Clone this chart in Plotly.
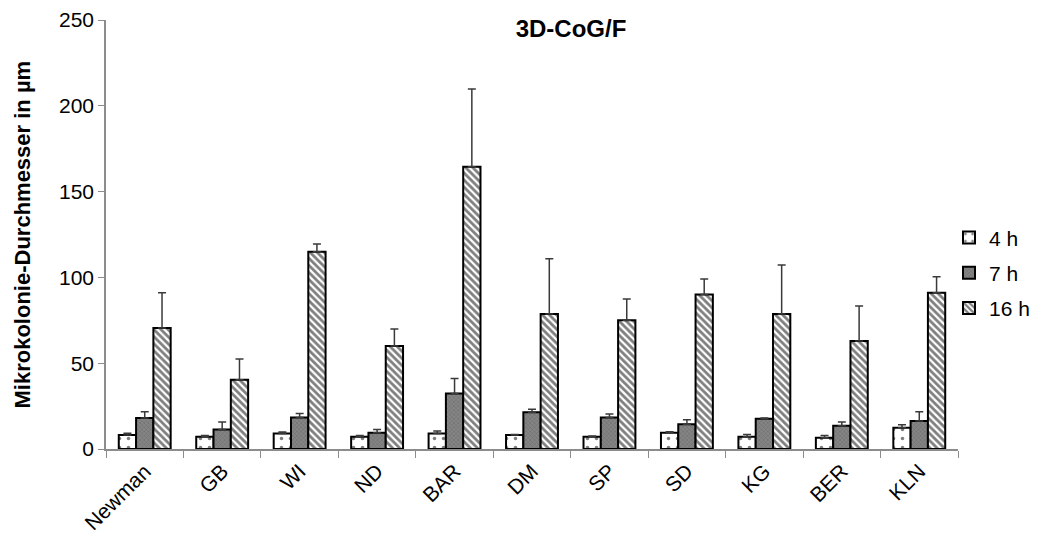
import plotly.graph_objects as go

categories = ["Newman", "GB", "WI", "ND", "BAR", "DM", "SP", "SD", "KG", "BER", "KLN"]
series_names = ["4 h", "7 h", "16 h"]

values_4h = [8.2, 7.2, 9.1, 7.2, 9.1, 8.2, 7.2, 9.5, 7.2, 6.6, 12.4]
values_7h = [18.0, 11.3, 18.4, 9.5, 32.4, 21.4, 18.4, 14.4, 17.7, 13.6, 16.3]
values_16h = [70.5, 40.4, 115.0, 60.0, 164.5, 78.7, 75.0, 90.1, 78.7, 62.9, 91.1]

err_4h = [1.0, 0.6, 0.8, 0.6, 1.4, 0.3, 0.4, 0.6, 1.2, 1.2, 1.8]
err_7h = [3.7, 4.4, 2.3, 1.9, 8.7, 1.7, 2.0, 2.7, 0.3, 2.1, 5.4]
err_16h = [20.5, 12.0, 4.5, 9.9, 45.3, 32.2, 12.4, 8.9, 28.5, 20.4, 9.3]

y_ticks = [0, 50, 100, 150, 200, 250]

FONT = "Liberation Sans, Arial, sans-serif"

W, H = 1045, 528
L, R, T, B = 98, 95, 12, 87
PW = W - L - R

styles = [
    dict(bgcolor="white", fgcolor="black", shape=".", size=9, solidity=0.12),
    dict(bgcolor="#858585", fgcolor="#555555", shape="x", size=3, solidity=0.35),
    dict(bgcolor="white", fgcolor="black", shape="\\", size=5, solidity=0.55),
]

fig = go.Figure()
for name, vals, errs, st in zip(series_names, [values_4h, values_7h, values_16h],
                                [err_4h, err_7h, err_16h], styles):
    fig.add_trace(go.Bar(
        x=categories, y=vals, name=name, legendgroup=name,
        marker=dict(color=st["bgcolor"], line=dict(color="black", width=2),
                    pattern=dict(shape=st["shape"], fgcolor=st["fgcolor"],
                                 bgcolor=st["bgcolor"], size=st["size"],
                                 solidity=st["solidity"], fillmode="overlay")),
        error_y=dict(type="data", symmetric=False, array=errs,
                     arrayminus=[0] * len(errs), color="#3a3a3a",
                     thickness=1.5, width=4),
    ))

fig.update_layout(
    width=W, height=H,
    paper_bgcolor="white", plot_bgcolor="white",
    barmode="group", bargap=0.33, bargroupgap=0,
    margin=dict(l=L, r=R, t=T, b=B, autoexpand=False),
    font=dict(family=FONT, size=20, color="black"),
    title=dict(text="<b>3D-CoG/F</b>", x=(571 - 8 - L) / PW, xref="paper",
               xanchor="center", y=1 - 21 / H, yref="container", yanchor="middle",
               font=dict(family=FONT, size=24, color="black")),
    legend=dict(x=(949 - 8 - L) / PW, xanchor="left", y=0.54, yanchor="top",
                font=dict(family=FONT, size=21), tracegroupgap=5,
                itemwidth=30, bgcolor="rgba(0,0,0,0)"),
    showlegend=True,
)

fig.update_xaxes(
    showline=True, linecolor="#8c8c8c", linewidth=1.5,
    ticks="outside", tickson="boundaries", ticklen=7, tickcolor="#8c8c8c",
    tickangle=-45, tickfont=dict(family=FONT, size=21),
    showgrid=False, automargin=False,
)
fig.update_yaxes(
    range=[0, 250], tickvals=y_ticks, showline=True, linecolor="#8c8c8c",
    linewidth=1.5, ticks="outside", ticklen=6, tickcolor="#8c8c8c",
    showgrid=False, zeroline=False, tickfont=dict(family=FONT, size=21),
    automargin=False,
)

fig.add_annotation(
    text="<b>Mikrokolonie-Durchmesser in µm</b>", textangle=-90,
    xref="paper", yref="paper", x=(22 - 8 - L) / PW, y=0.5,
    xanchor="center", yanchor="middle", showarrow=False,
    font=dict(family=FONT, size=22, color="black"),
)

fig.write_html("out.html")
